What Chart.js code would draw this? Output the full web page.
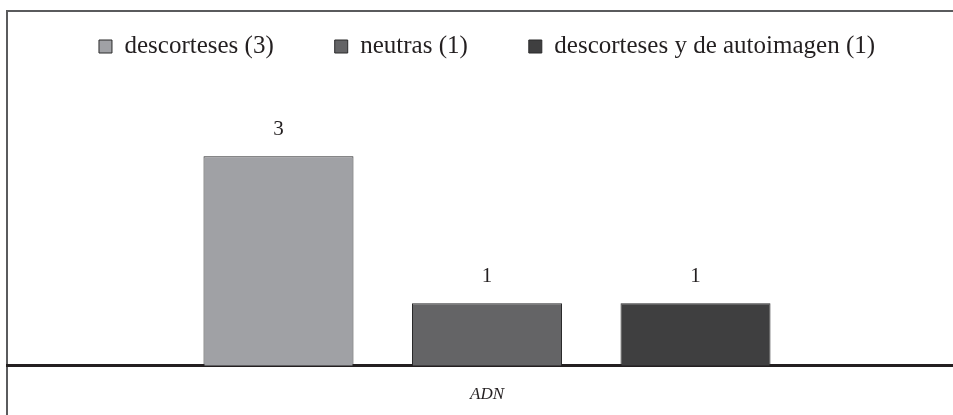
<!DOCTYPE html>
<html lang="es">
<head>
    <meta charset="UTF-8">
    <title>ADN</title>
    <script src="https://cdn.jsdelivr.net/npm/chart.js"></script>
    <style>
        body { margin: 0; overflow: hidden; background: #fff; }
        .frame {
            position: absolute; left: 6px; top: 10px;
            width: 1000px; height: 500px;
            border-top: 2px solid #5a5b5d;
            border-left: 2px solid #5a5b5d;
        }
        .wrap { position: absolute; left: 0; top: 0; width: 975px; height: 415px; }
    </style>
</head>
<body>
    <div class="frame"></div>
    <div class="wrap">
        <canvas id="adnChart"></canvas>
    </div>

    <script>
        const categories = ['ADN'];
        const seriesLabels = ['descorteses (3)', 'neutras (1)', 'descorteses y de autoimagen (1)'];
        const seriesValues = [[3], [1], [1]];
        const seriesColors = ['#a0a1a5', '#646466', '#3f3f40'];

        const ink = '#231f20';
        const serif = "'Liberation Serif', 'Times New Roman', serif";

        // value labels above each bar
        const valueLabels = {
            id: 'valueLabels',
            afterDatasetsDraw(chart) {
                const ctx = chart.ctx;
                ctx.save();
                ctx.font = '21px ' + serif;
                ctx.fillStyle = ink;
                ctx.textAlign = 'center';
                ctx.textBaseline = 'middle';
                chart.data.datasets.forEach((ds, i) => {
                    chart.getDatasetMeta(i).data.forEach((bar, j) => {
                        ctx.fillText(String(ds.data[j]), bar.x, bar.y - 27);
                    });
                });
                ctx.restore();
            }
        };

        const ctx = document.getElementById('adnChart').getContext('2d');

        new Chart(ctx, {
            type: 'bar',
            data: {
                labels: categories,
                datasets: seriesLabels.map((label, i) => ({
                    label: label,
                    data: seriesValues[i],
                    backgroundColor: seriesColors[i],
                    borderColor: '#2a2a2b',
                    borderWidth: 1,
                    clip: 0,
                    categoryPercentage: 0.6516,
                    barPercentage: 0.7194
                }))
            },
            options: {
                responsive: true,
                maintainAspectRatio: false,
                animation: false,
                layout: {
                    padding: { left: 7, right: 8, top: -27, bottom: -9 }
                },
                scales: {
                    x: {
                        grid: { display: false, drawTicks: false },
                        border: { display: true, color: ink, width: 3 },
                        ticks: {
                            color: ink,
                            padding: 19,
                            font: { family: serif, size: 17, style: 'italic' }
                        }
                    },
                    y: {
                        display: false,
                        min: 0.15,
                        max: 4.19
                    }
                },
                plugins: {
                    legend: {
                        position: 'top',
                        labels: {
                            color: ink,
                            boxWidth: 13,
                            boxHeight: 13,
                            padding: 61,
                            font: { family: serif, size: 25 }
                        }
                    },
                    tooltip: { enabled: false }
                }
            },
            plugins: [valueLabels]
        });
    </script>
</body>
</html>
